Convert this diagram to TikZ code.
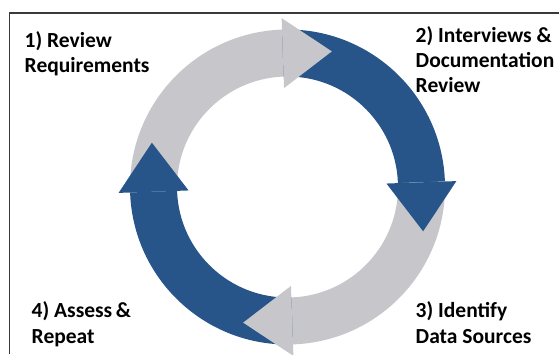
\documentclass[tikz,border=0pt]{standalone}
\usepackage{fontspec}
\setmainfont{Carlito}
\usetikzlibrary{calc}
\definecolor{cycblue}{HTML}{27558A}
\definecolor{cycgray}{HTML}{C7C7CB}
\definecolor{framecol}{HTML}{3A3A3A}
\begin{document}
\begin{tikzpicture}[x=1pt,y=1pt,
  lbl/.style={anchor=base west,inner sep=0pt,align=left,font=\fontsize{21.5}{25.5}\selectfont\bfseries},
  frameline/.style={draw=framecol,line width=1.6pt}]
\useasboundingbox (0,0) rectangle (559,354);
\coordinate (c) at (287.5,167);
\coordinate (fa) at (9.5,0);
\coordinate (fb) at (9.5,341);
\coordinate (fc) at (559,341);
\draw[frameline] (fa) -- (fb) -- (fc);
% ring sectors
\def\rin{110.5}
\def\rout{157.5}
\def\rmid{134}
\foreach \s/\e/\col in {182/92/cycgray, 92/2/cycblue, 2/-88/cycgray, -88/-178/cycblue}{
  \fill[\col] ($(c)+(\s:\rout)$) arc[start angle=\s,end angle=\e,radius=\rout]
    -- ($(c)+(\e:\rin)$) arc[start angle=\e,end angle=\s,radius=\rin] -- cycle;
}
% arrow heads
\foreach \a/\col in {92/cycgray, 2/cycblue, -88/cycgray, 182/cycblue}{
  \fill[\col] ($(c)+(\a:\rmid+35)$) -- ($(c)+(\a:\rmid)+(\a-90:49)$) -- ($(c)+(\a:\rmid-35)$) -- cycle;
}
\node[lbl] (t1) at (24.5,281) {1) Review\\Requirements};
\node[lbl] (t2) at (415.5,261) {2) Interviews \&\\Documentation\\Review};
\node[lbl] (t3) at (415.5,11) {3) Identify\\Data Sources};
\node[lbl] (t4) at (31.5,11) {4) Assess\,\&\\Repeat};
\end{tikzpicture}
\end{document}
